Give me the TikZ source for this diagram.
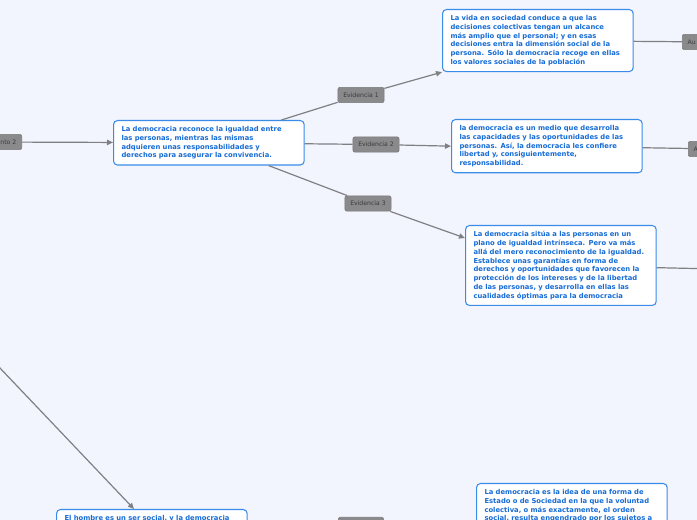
\documentclass[tikz,border=0pt]{standalone}
\usepackage{fontspec}
\setmainfont{DejaVu Sans}
\usetikzlibrary{arrows.meta}

\definecolor{paper}{RGB}{242,245,253}
\definecolor{ideaborder}{RGB}{58,140,232}
\definecolor{ideatext}{RGB}{22,108,214}
\definecolor{tagfill}{RGB}{138,138,140}
\definecolor{tagborder}{RGB}{120,120,122}
\definecolor{tagtext}{RGB}{58,58,60}
\definecolor{linkgray}{RGB}{128,128,132}

\newcommand{\ideafont}{\fontsize{5.1}{6.6}\selectfont\bfseries}
\newcommand{\tagfont}{\fontsize{4.6}{5}\selectfont}

\tikzset{
  idea/.style={draw=ideaborder, line width=0.8pt, fill=white, rounded corners=3pt,
    text=ideatext, font=\ideafont, align=left, text width=131pt,
    inner xsep=6pt, inner ysep=4.3pt, anchor=north west},
  tag/.style={draw=tagborder, fill=tagfill, rounded corners=1.5pt, text=tagtext,
    font=\tagfont, inner xsep=4pt, inner ysep=0pt, minimum height=11.5pt, minimum width=34pt},
  link/.style={draw=linkgray, line width=0.9pt},
  linkto/.style={link, -{Triangle[length=4.5pt,width=4pt]}}
}

\begin{document}
\begin{tikzpicture}[x=0.75pt,y=-0.75pt]
            \useasboundingbox[fill=paper] (0,0) rectangle (697,520);
            \clip (0,0) rectangle (697,520);

            % idea boxes
            \node[idea] (central) at (113,120) {La democracia reconoce la igualdad entre\\
              las personas, mientras las mismas\\
              adquieren unas responsabilidades y\\
              derechos para asegurar la convivencia.};
            \node[idea] (vida) at (442,9) {La vida en sociedad conduce a que las\\
              decisiones colectivas tengan un alcance\\
              más amplio que el personal; y en esas\\
              decisiones entra la dimensión social de la\\
              persona. Sólo la democracia recoge en ellas\\
              los valores sociales de la población};
            \node[idea] (medio) at (451,119) {la democracia es un medio que desarrolla\\
              las capacidades y las oportunidades de las\\
              personas. Así, la democracia les confiere\\
              libertad y, consiguientemente,\\
              responsabilidad.};
            \node[idea] (plano) at (465,225) {La democracia sitúa a las personas en un\\
              plano de igualdad intrínseca. Pero va más\\
              allá del mero reconocimiento de la igualdad.\\
              Establece unas garantías en forma de\\
              derechos y oportunidades que favorecen la\\
              protección de los intereses y de la libertad\\
              de las personas, y desarrolla en ellas las\\
              cualidades óptimas para la democracia};
            \node[idea] (hombre) at (56,509) {El hombre es un ser social, y la democracia};
            \node[idea] (estado) at (476,483) {La democracia es la idea de una forma de\\
              Estado o de Sociedad en la que la voluntad\\
              colectiva, o más exactamente, el orden\\
              social, resulta engendrado por los sujetos a};

            % tags
            \node[tag, anchor=east, text width=40pt, align=right] (arg) at (22,142) {nto 2};
            \node[tag] (ev1) at (361,95) {Evidencia 1};
            \node[tag] (ev2) at (376,144.5) {Evidencia 2};
            \node[tag] (ev3) at (368,203.5) {Evidencia 3};
            \node[tag, anchor=west, text width=40pt, align=left] (autA) at (682,42) {Au};
            \node[tag, anchor=west, text width=40pt, align=left] (autB) at (688,149) {A};
            \node[tag, anchor=north west] (evD) at (338,517) {};

            \coordinate (outC) at (760,270);
            \coordinate (upD) at (-40,326);

            % connectors
            \draw[linkto] (arg) -- (central);
            \draw[link] (central) -- (ev1);
            \draw[link] (central) -- (ev2);
            \draw[link] (central) -- (ev3);
            \draw[linkto] (ev1) -- (vida.south west);
            \draw[linkto] (ev2) -- (medio.west);
            \draw[linkto] (ev3) -- (plano.164);
            \draw[link] (vida) -- (autA);
            \draw[link] (medio) -- (autB);
            \draw[link] (plano) -- (outC);
            \draw[linkto] (upD) -- ([xshift=58.5pt]hombre.north west);
        \end{tikzpicture}
\end{document}
